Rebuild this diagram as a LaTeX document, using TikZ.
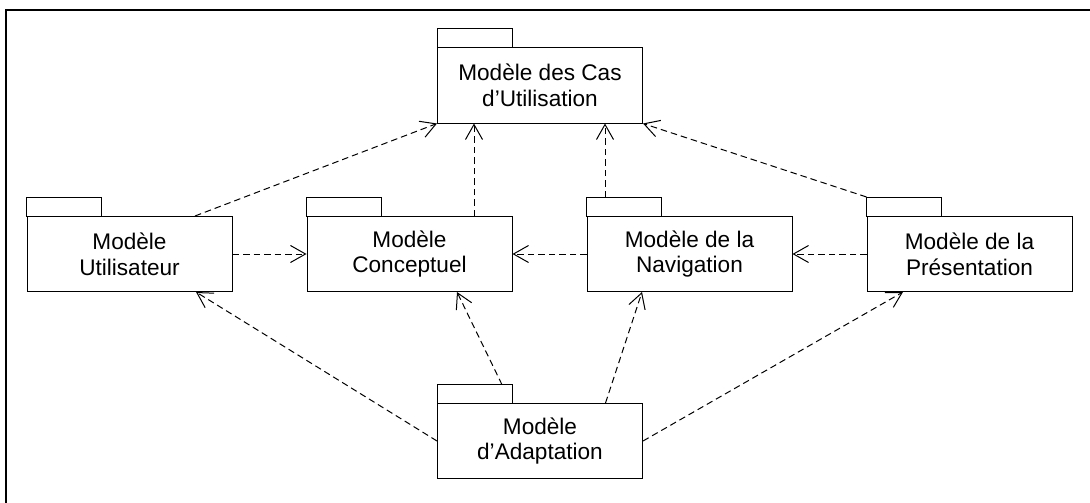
\documentclass[tikz,border=0pt]{standalone}
\usepackage{fontspec}
\setmainfont{Liberation Sans}
\usetikzlibrary{arrows.meta,calc}
\begin{document}
\begin{tikzpicture}[x=1pt,y=-1pt,
  pkg/.style={draw,line width=1pt,minimum width=205pt,minimum height=75pt,inner sep=0pt,align=center,
    font=\fontsize{22.6}{25.7}\selectfont},
  dep/.style={draw,line width=1pt,dash pattern=on 6.5pt off 4pt,-{Straight Barb[length=15pt,width=17pt,line width=1pt]}}]
\useasboundingbox (0,0) rectangle (1090,503);
\draw[line width=1.6pt] (6,503) -- (6,10) -- (1090,10);
\node[pkg] (cas)  at (540,85.5) {Modèle des Cas\\d’Utilisation};
\node[pkg] (util) at (129.5,254) {Modèle\\Utilisateur};
\node[pkg] (conc) at (409.5,254) {Modèle\\Conceptuel};
\node[pkg] (nav)  at (689.5,254) {Modèle de la\\Navigation};
\node[pkg] (pres) at (969.5,254) {Modèle de la\\Présentation};
\node[pkg] (adap) at (540,441) {Modèle\\d’Adaptation};
\foreach \n in {cas,util,conc,nav,pres,adap}
  \draw[line width=1pt] (\n.north west) rectangle ++(75,-19);
% dependencies
\draw[dep] ([xshift=65.5]util.north) -- (cas.south west);
\draw[dep] ([xshift=64.5]conc.north) coordinate (c1) -- (c1 |- cas.south);
\draw[dep] ([xshift=-84.5,yshift=19]nav.north) coordinate (n1) -- (n1 |- cas.south);
\draw[dep] ([yshift=19]pres.north west) -- (cas.south east);
\draw[dep] (util.east) -- (conc.west);
\draw[dep] (nav.west) -- (conc.east);
\draw[dep] (pres.west) -- (nav.east);
\draw[dep] (adap.west) -- ([xshift=66.5]util.south);
\draw[dep] ([xshift=-38,yshift=18.3]adap.north) -- ([xshift=47.5]conc.south);
\draw[dep] ([xshift=65.5]adap.north) -- ([xshift=-47.5]nav.south);
\draw[dep] (adap.east) -- ([xshift=-66.5]pres.south);
\end{tikzpicture}
\end{document}
